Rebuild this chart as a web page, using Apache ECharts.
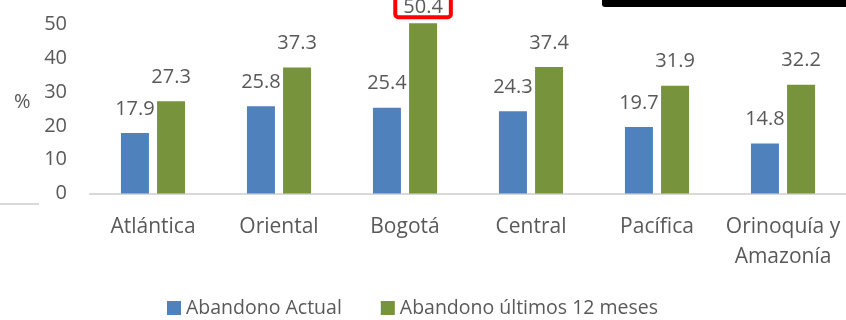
<!DOCTYPE html>
<html>
<head>
<meta charset="utf-8">
<script src="https://cdn.jsdelivr.net/npm/echarts@6/dist/echarts.min.js"></script>
<style>
  html, body { margin: 0; padding: 0; background: #fff; }
  #chart { width: 846px; height: 320px; }
</style>
</head>
<body>
<div id="chart"></div>
<script>
// Regions and dropout rates (%)
const regions = ['Atlántica', 'Oriental', 'Bogotá', 'Central', 'Pacífica', 'Orinoquía y\nAmazonía'];
const abandonoActual = [17.9, 25.8, 25.4, 24.3, 19.7, 14.8];
const abandono12Meses = [27.3, 37.3, 50.4, 37.4, 31.9, 32.2];
const seriesNames = ['Abandono Actual', 'Abandono últimos 12 meses'];
const highlightRegion = 'Bogotá';

const FONT = '"Open Sans", sans-serif';
const TEXT = '#595959';

const chart = echarts.init(document.getElementById('chart'), null, { renderer: 'canvas' });

const labelStyle = {
  show: true,
  position: 'top',
  distance: 14,
  fontFamily: FONT,
  fontSize: 20,
  color: TEXT,
  formatter: p => p.value.toFixed(1)
};

// The Bogotá value gets a red framed label
const greenData = abandono12Meses.map((v, i) => {
  if (regions[i] !== highlightRegion) return v;
  return {
    value: v,
    label: {
      borderColor: '#ff0000',
      borderWidth: 4,
      borderRadius: 3,
      padding: [2, 8, 0, 8],
      lineHeight: 20,
      distance: 6
    }
  };
});

chart.setOption({
  animation: false,
  textStyle: { fontFamily: FONT },
  grid: {
    left: 90, right: 0, top: -9.3, bottom: 126.5,
    containLabel: false,
    outerBoundsMode: 'none'
  },
  legend: {
    left: 167,
    top: 298,
    padding: 0,
    icon: 'rect',
    itemWidth: 14,
    itemHeight: 14,
    itemGap: 39,
    textStyle: { fontFamily: FONT, fontSize: 19.5, color: TEXT },
    data: seriesNames
  },
  xAxis: {
    type: 'category',
    data: regions,
    axisLine: { lineStyle: { color: '#d9d9d9', width: 2 } },
    axisTick: { show: false },
    axisLabel: { fontFamily: FONT, fontSize: 21, color: TEXT, margin: 19, lineHeight: 30, interval: 0 }
  },
  yAxis: {
    type: 'value',
    min: 0,
    max: 60,
    interval: 10,
    splitLine: { show: false },
    axisLine: { show: false },
    axisTick: { show: false },
    axisLabel: {
      fontFamily: FONT, fontSize: 20, color: TEXT, margin: 23,
      formatter: v => (v > 50 ? '' : String(v))
    }
  },
  series: [
    {
      name: seriesNames[0],
      type: 'bar',
      data: abandonoActual,
      barWidth: 28,
      barGap: '29%',
      itemStyle: { color: '#4f81bd' },
      label: labelStyle
    },
    {
      name: seriesNames[1],
      type: 'bar',
      data: greenData,
      barWidth: 28,
      itemStyle: { color: '#77933c' },
      label: labelStyle
    }
  ],
  graphic: [
    {
      type: 'text',
      left: 14,
      top: 92,
      style: { text: '%', fontFamily: FONT, fontSize: 20, fill: TEXT }
    },
    {
      type: 'line',
      shape: { x1: 0, y1: 204, x2: 39, y2: 204 },
      style: { stroke: '#d9d9d9', lineWidth: 2 }
    },
    {
      type: 'rect',
      shape: { x: 602, y: -10, width: 260, height: 17, r: 3 },
      style: { fill: '#000' }
    }
  ]
});
</script>
</body>
</html>
